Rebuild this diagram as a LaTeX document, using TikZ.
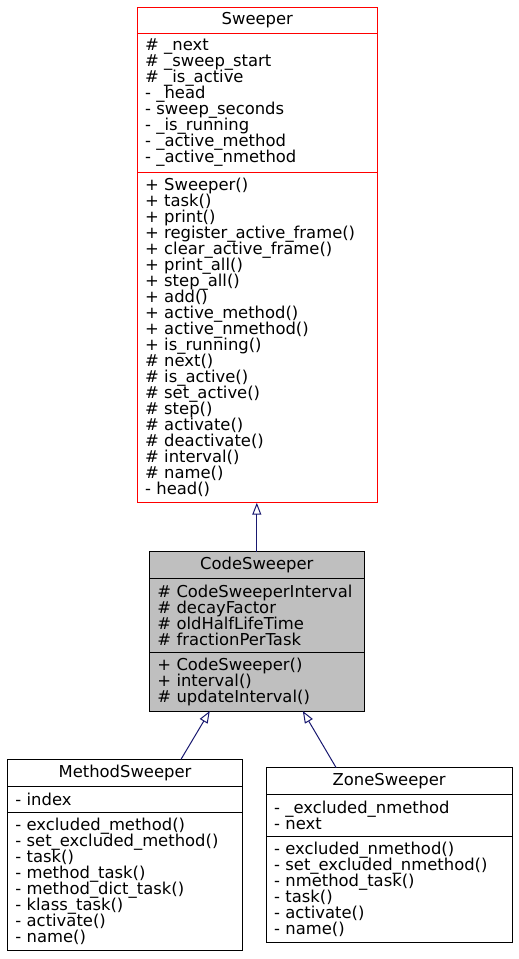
\documentclass[tikz,border=0pt]{standalone}
\usepackage{fontspec}
\setmainfont{DejaVu Sans}
\usepackage{xcolor}
\definecolor{edgeblue}{HTML}{191970}
\definecolor{basegray}{HTML}{BFBFBF}
\definecolor{basered}{HTML}{FF0000}
\usetikzlibrary{positioning, arrows.meta}
\newcommand{\umlsize}{\fontsize{16.4}{16}\selectfont\lineskiplimit=-100pt\hyphenpenalty=10000\relax}

\begin{document}
\begin{tikzpicture}[x=1pt, y=-1pt,
    classtitle/.style={draw, line width=1pt, outer sep=0pt, inner xsep=8pt, inner ysep=0pt,
      font=\umlsize, align=center, anchor=north west},
    classpart/.style={draw, line width=1pt, outer sep=0pt, inner xsep=8pt, inner ysep=0pt,
      font=\umlsize, align=left},
    baseclass/.style={draw=basered},
    inherit/.style={draw=edgeblue, line width=1pt, -{Triangle[open, length=12pt, width=9pt]}},
  ]
    \useasboundingbox (0,0) rectangle (519,959);

    % Sweeper (base class)
    \node[classtitle, baseclass, text width=224.7pt, minimum height=26.7pt] (sweeper) at (137,7) {Sweeper};
    \node[classpart, baseclass, text width=224.7pt, minimum height=138.6pt, below=0pt of sweeper] (sweeper-attr)
      {\# \_next\\\# \_sweep\_start\\\# \_is\_active\\- \_head\\- sweep\_seconds\\- \_is\_running\\- \_active\_method\\- \_active\_nmethod};
    \node[classpart, baseclass, text width=224.7pt, minimum height=330.4pt, below=0pt of sweeper-attr] (sweeper-ops)
      {+ Sweeper()\\+ task()\\+ print()\\+ register\_active\_frame()\\+ clear\_active\_frame()\\+ print\_all()\\+ step\_all()\\+ add()\\+ active\_method()\\+ active\_nmethod()\\+ is\_running()\\\# next()\\\# is\_active()\\\# set\_active()\\\# step()\\\# activate()\\\# deactivate()\\\# interval()\\\# name()\\- head()};

    % CodeSweeper
    \node[classtitle, fill=basegray, text width=199pt, minimum height=26.6pt] (codesweeper) at (149.3,551.7) {CodeSweeper};
    \node[classpart, fill=basegray, text width=199pt, minimum height=74.4pt, below=0pt of codesweeper] (codesweeper-attr)
      {\# CodeSweeperInterval\\\# decayFactor\\\# oldHalfLifeTime\\\# fractionPerTask};
    \node[classpart, fill=basegray, text width=199pt, minimum height=58.3pt, below=0pt of codesweeper-attr] (codesweeper-ops)
      {+ CodeSweeper()\\+ interval()\\\# updateInterval()};

    % MethodSweeper
    \node[classtitle, text width=219.4pt, minimum height=26.7pt] (methodsweeper) at (7.3,759.3) {MethodSweeper};
    \node[classpart, text width=219.4pt, minimum height=26.3pt, below=0pt of methodsweeper] (methodsweeper-attr)
      {- index};
    \node[classpart, text width=219.4pt, minimum height=138.4pt, below=0pt of methodsweeper-attr] (methodsweeper-ops)
      {- excluded\_method()\\- set\_excluded\_method()\\- task()\\- method\_task()\\- method\_dict\_task()\\- klass\_task()\\- activate()\\- name()};

    % ZoneSweeper
    \node[classtitle, text width=230.3pt, minimum height=26.3pt] (zonesweeper) at (266,767.7) {ZoneSweeper};
    \node[classpart, text width=230.3pt, minimum height=42pt, below=0pt of zonesweeper] (zonesweeper-attr)
      {- \_excluded\_nmethod\\- next};
    \node[classpart, text width=230.3pt, minimum height=106.3pt, below=0pt of zonesweeper-attr] (zonesweeper-ops)
      {- excluded\_nmethod()\\- set\_excluded\_nmethod()\\- nmethod\_task()\\- task()\\- activate()\\- name()};

    % Generalisation arrows
    \draw[inherit] (codesweeper.north) -- (codesweeper.north |- sweeper-ops.south);
    \draw[inherit] ([xshift=56pt]methodsweeper.north) -- ([xshift=-47pt]codesweeper-ops.south);
    \draw[inherit] ([xshift=-53pt]zonesweeper.north) -- ([xshift=46pt]codesweeper-ops.south);
\end{tikzpicture}
\end{document}
